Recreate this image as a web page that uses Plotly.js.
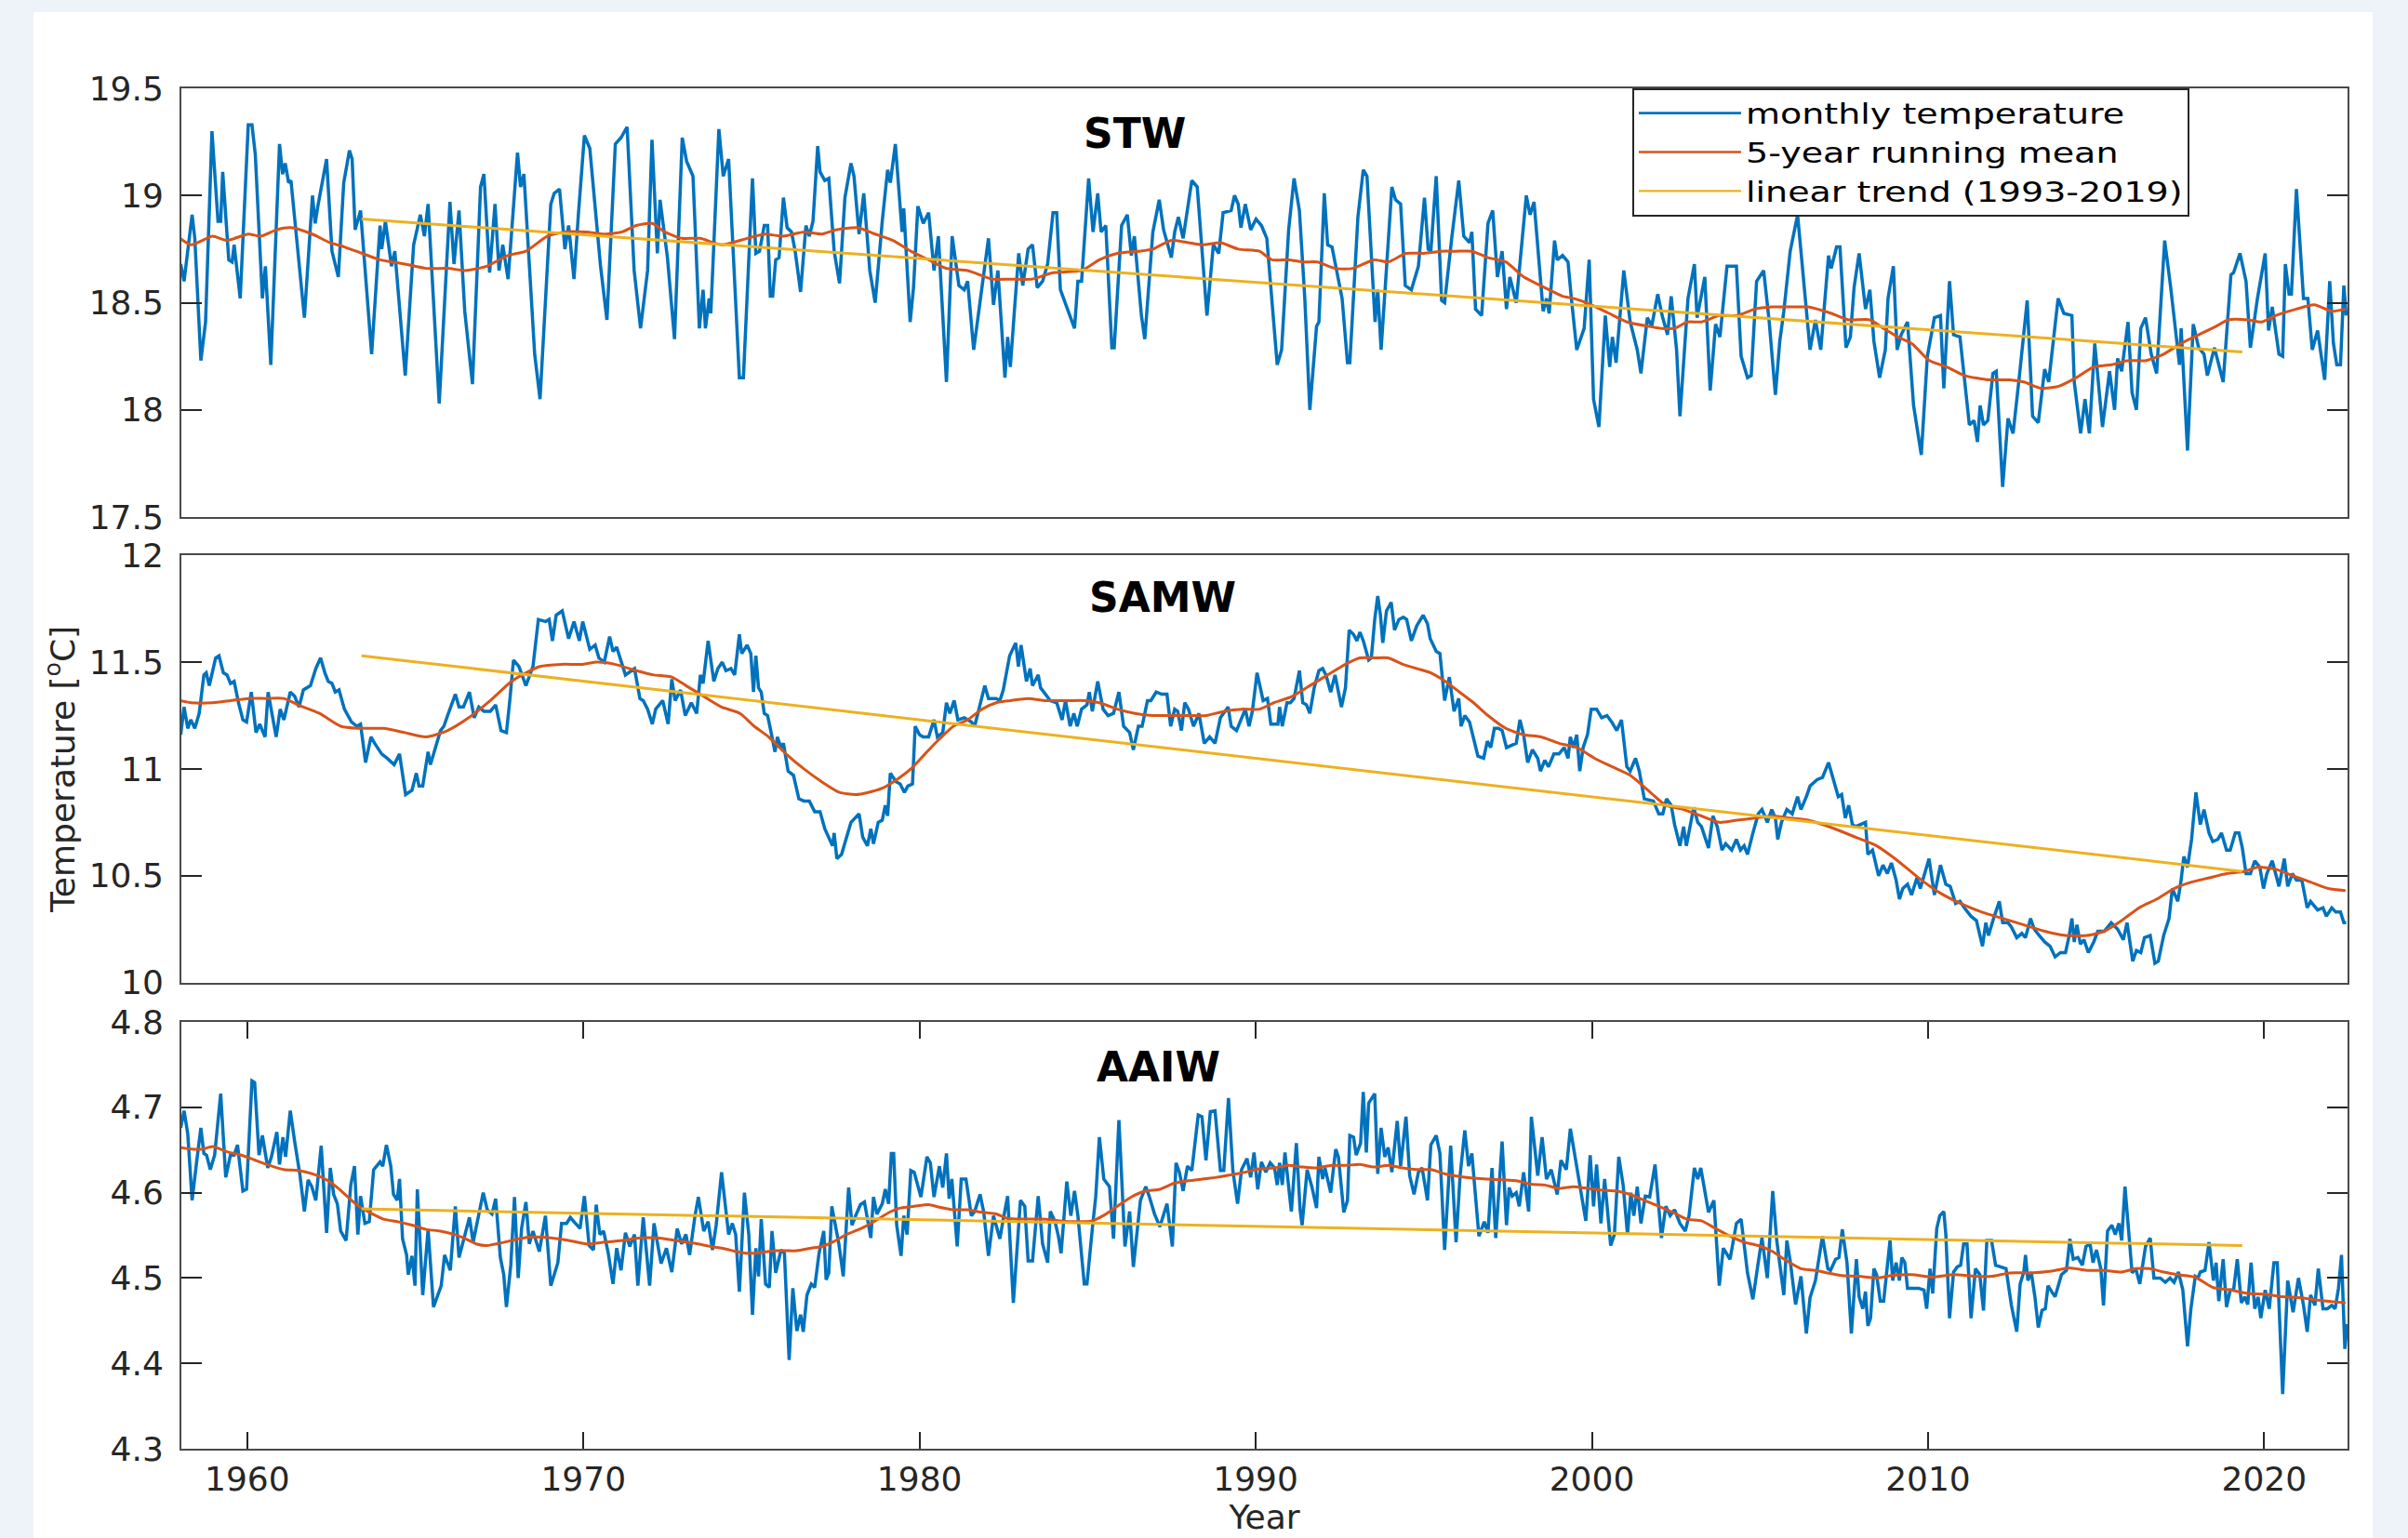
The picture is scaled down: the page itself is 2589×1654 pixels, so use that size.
<!DOCTYPE html>
<html><head><meta charset="utf-8">
<script src="https://cdn.plot.ly/plotly-3.0.1.min.js"></script>
<style>
html,body{margin:0;padding:0;background:#eef3f9;width:2589px;height:1654px;overflow:hidden;}
#plot{position:absolute;left:36px;top:13px;width:2515px;height:1641px;background:#fff;}
</style></head><body><div id="plot"></div>
<script>
// ---------- DATA: [decimal year, temperature °C] ----------
const stwMonthly = [[1958.02,18.68],[1958.12,18.60],[1958.36,18.91],[1958.44,18.80],[1958.62,18.23],[1958.76,18.41],[1958.95,19.30],[1959.13,18.88],[1959.21,18.88],[1959.27,19.11],[1959.45,18.70],[1959.55,18.69],[1959.61,18.77],[1959.79,18.52],[1960.03,19.33],[1960.14,19.33],[1960.24,19.19],[1960.45,18.52],[1960.54,18.67],[1960.70,18.21],[1960.96,19.24],[1961.05,19.10],[1961.13,19.15],[1961.23,19.06],[1961.30,19.07],[1961.70,18.43],[1961.94,19.00],[1962.02,18.87],[1962.10,18.95],[1962.36,19.17],[1962.52,18.74],[1962.71,18.62],[1962.87,19.06],[1963.04,19.21],[1963.12,19.17],[1963.21,18.84],[1963.37,18.93],[1963.70,18.26],[1963.95,18.86],[1964.00,18.75],[1964.11,18.88],[1964.29,18.67],[1964.39,18.74],[1964.70,18.16],[1964.95,18.77],[1965.15,18.91],[1965.27,18.81],[1965.38,18.96],[1965.71,18.03],[1966.03,18.97],[1966.15,18.68],[1966.30,18.93],[1966.47,18.46],[1966.70,18.12],[1966.94,19.04],[1967.04,19.10],[1967.21,18.64],[1967.37,18.96],[1967.49,18.65],[1967.60,18.77],[1967.76,18.61],[1968.04,19.20],[1968.13,19.04],[1968.23,19.10],[1968.55,18.26],[1968.71,18.05],[1969.03,18.96],[1969.13,19.01],[1969.29,19.03],[1969.45,18.75],[1969.56,18.86],[1969.72,18.61],[1969.85,18.91],[1970.03,19.28],[1970.19,19.22],[1970.51,18.67],[1970.70,18.42],[1970.95,19.24],[1971.12,19.27],[1971.30,19.32],[1971.51,18.65],[1971.70,18.38],[1971.91,18.65],[1972.04,19.26],[1972.20,18.73],[1972.28,18.98],[1972.50,18.71],[1972.71,18.33],[1972.94,19.27],[1973.07,19.16],[1973.26,19.09],[1973.45,18.38],[1973.56,18.56],[1973.63,18.38],[1973.74,18.52],[1973.79,18.45],[1974.03,19.31],[1974.16,19.09],[1974.32,19.17],
[1974.64,18.15],[1974.76,18.15],[1975.03,19.08],[1975.13,18.73],[1975.24,18.74],[1975.38,18.86],[1975.48,18.86],[1975.56,18.53],[1975.63,18.53],[1975.72,18.70],[1975.82,18.71],[1975.95,18.99],[1976.06,18.85],[1976.19,18.83],[1976.30,18.74],[1976.46,18.55],[1976.62,18.86],[1976.72,18.81],[1976.83,18.88],[1976.97,19.23],[1977.04,19.11],[1977.18,19.07],[1977.30,19.08],[1977.46,18.74],[1977.62,18.59],[1977.78,18.99],[1977.96,19.15],[1978.05,19.09],[1978.20,18.82],[1978.34,19.01],[1978.52,18.65],[1978.68,18.50],[1978.89,18.88],[1979.05,19.12],[1979.13,19.06],[1979.28,19.24],[1979.48,18.83],[1979.53,18.94],[1979.72,18.41],[1979.82,18.57],[1979.95,18.95],[1980.11,18.87],[1980.27,18.92],[1980.43,18.65],[1980.56,18.81],[1980.80,18.13],[1980.97,18.81],[1981.17,18.58],[1981.33,18.56],[1981.43,18.60],[1981.61,18.28],[1982.05,18.80],[1982.20,18.49],[1982.33,18.65],[1982.54,18.15],[1982.62,18.34],[1982.70,18.20],[1982.83,18.48],[1982.95,18.73],[1983.07,18.58],[1983.23,18.75],[1983.36,18.77],[1983.50,18.57],[1983.66,18.60],[1983.81,18.68],[1983.97,18.92],[1984.08,18.92],[1984.19,18.56],[1984.45,18.45],[1984.61,18.38],[1984.71,18.60],[1984.82,18.60],[1985.03,19.08],[1985.16,18.83],[1985.30,19.01],[1985.40,18.83],[1985.54,18.86],[1985.72,18.29],[1985.79,18.29],[1986.01,18.86],[1986.18,18.91],[1986.30,18.72],[1986.39,18.81],[1986.60,18.44],[1986.70,18.33],[1986.94,18.83],[1987.13,18.98],[1987.26,18.84],[1987.49,18.71],[1987.59,18.83],[1987.70,18.90],[1987.84,18.80],[1988.10,19.07],[1988.26,19.04],[1988.55,18.44],[1988.74,18.77],[1988.90,18.73],[1989.03,18.92],[1989.27,18.93],[1989.37,19.00],[1989.48,18.96],[1989.56,18.85],[1989.69,18.96],[1989.85,18.84],[1990.01,18.89],[1990.17,18.86],[1990.33,18.80],[1990.48,18.52],[1990.64,18.21],
[1990.77,18.28],[1990.98,18.84],[1991.14,19.08],[1991.30,18.93],[1991.46,18.52],[1991.61,18.00],[1991.81,18.39],[1991.88,18.41],[1992.04,19.01],[1992.14,18.77],[1992.27,18.76],[1992.57,18.52],[1992.73,18.22],[1992.80,18.22],[1993.04,18.90],[1993.20,19.12],[1993.31,19.09],[1993.41,18.80],[1993.55,18.41],[1993.63,18.56],[1993.73,18.28],[1994.05,19.04],[1994.16,18.98],[1994.31,18.96],[1994.45,18.58],[1994.63,18.56],[1994.84,18.67],[1995.02,18.99],[1995.13,18.75],[1995.21,18.74],[1995.37,19.09],[1995.53,18.51],[1995.62,18.50],[1995.83,18.80],[1996.04,19.07],[1996.19,18.81],[1996.36,18.78],[1996.43,18.83],[1996.54,18.47],[1996.72,18.44],[1996.91,18.87],[1997.05,18.93],[1997.19,18.62],[1997.33,18.74],[1997.46,18.47],[1997.56,18.62],[1997.75,18.50],[1998.05,19.00],[1998.16,18.91],[1998.28,18.97],[1998.55,18.46],[1998.65,18.52],[1998.73,18.45],[1998.89,18.79],[1998.97,18.70],[1999.13,18.72],[1999.29,18.69],[1999.39,18.52],[1999.55,18.28],[1999.77,18.38],[1999.92,18.70],[2000.05,18.05],[2000.21,17.92],[2000.40,18.44],[2000.53,18.20],[2000.61,18.34],[2000.72,18.22],[2000.95,18.65],[2001.14,18.41],[2001.35,18.28],[2001.46,18.17],[2001.65,18.43],[2001.78,18.39],[2001.96,18.54],[2002.09,18.44],[2002.25,18.35],[2002.36,18.53],[2002.52,18.28],[2002.62,17.97],[2002.86,18.52],[2003.05,18.68],[2003.13,18.43],[2003.36,18.62],[2003.52,18.09],[2003.68,18.40],[2003.81,18.34],[2004.02,18.67],[2004.16,18.67],[2004.30,18.67],[2004.44,18.25],[2004.63,18.15],[2004.74,18.16],[2004.90,18.60],[2005.11,18.65],[2005.27,18.42],[2005.46,18.07],[2005.59,18.32],[2005.71,18.46],[2005.90,18.74],[2006.12,18.91],[2006.33,18.53],[2006.49,18.28],[2006.65,18.42],[2006.81,18.28],
[2007.04,18.72],[2007.12,18.66],[2007.28,18.76],[2007.38,18.76],[2007.56,18.29],[2007.69,18.34],[2007.80,18.57],[2007.95,18.73],[2008.14,18.47],[2008.27,18.56],[2008.39,18.32],[2008.56,18.15],[2008.73,18.28],[2008.81,18.52],[2008.97,18.67],[2009.08,18.28],[2009.20,18.35],[2009.39,18.41],[2009.57,18.02],[2009.80,17.79],[2009.98,18.25],[2010.19,18.43],[2010.37,18.44],[2010.47,18.10],[2010.64,18.60],[2010.76,18.35],[2010.95,18.34],[2011.23,17.93],[2011.37,17.95],[2011.47,17.85],[2011.55,18.02],[2011.65,17.93],[2011.78,17.95],[2011.93,18.17],[2012.03,18.18],[2012.22,17.64],[2012.38,17.96],[2012.53,17.89],[2012.72,18.16],[2012.95,18.51],[2013.11,17.97],[2013.28,17.94],[2013.47,18.19],[2013.59,18.13],[2013.87,18.52],[2014.04,18.45],[2014.28,18.44],[2014.35,18.13],[2014.54,17.89],[2014.67,18.05],[2014.80,17.89],[2014.96,18.31],[2015.19,17.92],[2015.40,18.18],[2015.55,18.00],[2015.64,18.24],[2015.76,18.18],[2015.95,18.41],[2016.07,18.08],[2016.20,18.00],[2016.33,18.38],[2016.47,18.43],[2016.64,18.26],[2016.80,18.17],[2017.04,18.79],[2017.22,18.57],[2017.48,18.21],[2017.53,18.38],[2017.72,17.81],[2017.89,18.40],[2018.05,18.29],[2018.21,18.26],[2018.31,18.16],[2018.52,18.29],[2018.78,18.13],[2019.01,18.63],[2019.09,18.64],[2019.28,18.73],[2019.46,18.60],[2019.59,18.29],[2019.80,18.52],[2020.03,18.73],[2020.13,18.37],[2020.24,18.48],[2020.44,18.26],[2020.55,18.25],[2020.63,18.68],[2020.74,18.54],[2020.81,18.54],[2020.96,19.03],[2021.17,18.52],[2021.30,18.52],[2021.43,18.28],[2021.59,18.37],[2021.80,18.14],[2021.95,18.60],[2022.06,18.31],[2022.16,18.21],[2022.27,18.21],[2022.37,18.58],[2022.44,18.44]];

const stwMean = [[1958.0,18.80],[1958.33,18.77],[1958.97,18.81],[1959.39,18.79],[1960.03,18.82],[1960.40,18.81],[1960.87,18.84],[1961.30,18.85],[1961.93,18.82],[1962.46,18.78],[1962.89,18.76],[1963.42,18.73],[1963.95,18.70],[1964.69,18.68],[1965.32,18.66],[1965.96,18.66],[1966.49,18.65],[1967.12,18.67],[1967.75,18.72],[1968.29,18.74],[1968.92,18.81],[1969.45,18.83],[1970.09,18.83],[1970.62,18.82],[1971.15,18.83],[1971.57,18.86],[1972.05,18.87],[1972.42,18.83],[1972.94,18.80],[1973.47,18.80],[1974.11,18.77],[1974.87,18.80],[1975.40,18.82],[1975.93,18.81],[1976.56,18.83],[1977.09,18.82],[1977.52,18.84],[1978.15,18.85],[1978.68,18.82],[1979.21,18.79],[1979.74,18.74],[1980.27,18.70],[1980.80,18.66],[1981.43,18.65],[1982.17,18.61],[1982.70,18.61],[1983.34,18.61],[1983.97,18.64],[1984.82,18.65],[1985.35,18.70],[1985.88,18.73],[1986.51,18.74],[1986.94,18.75],[1987.47,18.79],[1988.00,18.78],[1988.42,18.77],[1988.95,18.78],[1989.48,18.75],[1990.11,18.74],[1990.48,18.70],[1990.98,18.70],[1991.40,18.69],[1991.83,18.69],[1992.36,18.66],[1992.89,18.66],[1993.52,18.70],[1993.94,18.69],[1994.47,18.73],[1995.00,18.73],[1995.53,18.74],[1995.95,18.74],[1996.43,18.74],[1996.91,18.71],[1997.44,18.69],[1997.97,18.62],[1998.60,18.57],[1999.13,18.53],[1999.45,18.52],[1999.98,18.49],[2000.51,18.45],[2001.04,18.41],[2001.67,18.39],[2002.09,18.38],[2002.46,18.38],[2002.84,18.41],[2003.26,18.41],[2003.79,18.44],[2004.32,18.44],[2004.85,18.47],[2005.38,18.48],[2005.91,18.48],[2006.43,18.48],[2007.12,18.45],[2007.64,18.42],[2008.27,18.42],[2008.68,18.38],[2009.10,18.34],[2009.51,18.31],[2010.04,18.23],[2010.56,18.20],[2011.08,18.16],[2011.80,18.14],[2012.43,18.14],[2012.85,18.13],[2013.37,18.10],[2013.89,18.11],[2014.41,18.15],[2014.93,18.20],[2015.45,18.21],[2015.97,18.23],[2016.49,18.23],[2017.01,18.26],[2017.53,18.31],[2018.05,18.35],[2018.57,18.39],[2018.93,18.42],[2019.51,18.42],[2019.92,18.41],[2020.34,18.44],[2020.96,18.47],[2021.49,18.49],[2022.01,18.46],[2022.42,18.47]];

const stwTrend = [[1963.4,18.89],[2019.35,18.27]];

const samwMonthly = [[1958.02,11.16],[1958.12,11.29],[1958.23,11.19],[1958.32,11.23],[1958.44,11.19],[1958.57,11.26],[1958.71,11.44],[1958.78,11.45],[1958.87,11.39],[1959.06,11.52],[1959.16,11.53],[1959.29,11.45],[1959.40,11.44],[1959.50,11.40],[1959.61,11.41],[1959.74,11.31],[1959.87,11.23],[1959.98,11.22],[1960.12,11.36],[1960.26,11.17],[1960.37,11.21],[1960.53,11.15],[1960.62,11.36],[1960.72,11.28],[1960.86,11.15],[1960.98,11.28],[1961.09,11.23],[1961.28,11.36],[1961.41,11.34],[1961.54,11.29],[1961.67,11.37],[1961.88,11.39],[1962.04,11.47],[1962.18,11.52],[1962.31,11.45],[1962.41,11.41],[1962.52,11.40],[1962.62,11.36],[1962.73,11.37],[1962.89,11.28],[1963.10,11.22],[1963.26,11.20],[1963.37,11.21],[1963.52,11.03],[1963.68,11.15],[1963.79,11.12],[1964.00,11.07],[1964.16,11.05],[1964.37,11.02],[1964.53,11.07],[1964.71,10.88],[1964.90,10.90],[1965.03,10.98],[1965.11,10.92],[1965.22,10.92],[1965.38,11.08],[1965.45,11.02],[1965.75,11.18],[1965.85,11.20],[1965.96,11.25],[1966.19,11.35],[1966.30,11.29],[1966.43,11.29],[1966.61,11.36],[1966.75,11.24],[1966.89,11.29],[1967.04,11.27],[1967.23,11.27],[1967.39,11.30],[1967.55,11.18],[1967.71,11.17],[1967.81,11.32],[1967.92,11.51],[1968.08,11.48],[1968.29,11.39],[1968.50,11.48],[1968.66,11.70],[1968.87,11.69],[1968.98,11.70],[1969.08,11.60],[1969.19,11.72],[1969.37,11.74],[1969.45,11.68],[1969.56,11.61],[1969.72,11.69],[1969.88,11.60],[1969.98,11.69],[1970.19,11.56],[1970.35,11.58],[1970.46,11.52],[1970.62,11.50],[1970.78,11.62],[1970.88,11.55],[1970.99,11.57],[1971.25,11.44],[1971.52,11.47],[1971.68,11.33],[1971.78,11.32],[1971.91,11.28],[1972.05,11.21],[1972.15,11.28],[1972.36,11.32],[1972.52,11.21],[1972.63,11.42],[1972.73,11.32],[1972.89,11.37],[1973.03,11.25],[1973.21,11.31],[1973.37,11.26],[1973.48,11.44],[1973.56,11.40],[1973.71,11.60],[1973.88,11.41],[1974.00,11.47],[1974.13,11.50],
[1974.24,11.46],[1974.39,11.47],[1974.50,11.44],[1974.64,11.63],[1974.71,11.54],[1974.87,11.58],[1974.98,11.54],[1975.06,11.36],[1975.13,11.53],[1975.21,11.38],[1975.29,11.36],[1975.38,11.26],[1975.48,11.25],[1975.56,11.19],[1975.70,11.08],[1975.77,11.15],[1975.88,11.10],[1975.95,11.12],[1976.09,10.99],[1976.25,10.97],[1976.41,10.86],[1976.56,10.85],[1976.72,10.85],[1976.88,10.80],[1977.04,10.80],[1977.18,10.72],[1977.41,10.64],[1977.46,10.70],[1977.54,10.58],[1977.68,10.60],[1977.83,10.68],[1977.96,10.75],[1978.20,10.79],[1978.31,10.68],[1978.45,10.64],[1978.55,10.72],[1978.63,10.65],[1978.77,10.75],[1978.89,10.76],[1978.98,10.83],[1979.05,10.78],[1979.13,10.98],[1979.30,10.94],[1979.42,10.93],[1979.55,10.89],[1979.65,10.92],[1979.79,10.93],[1979.87,11.20],[1980.00,11.16],[1980.11,11.15],[1980.27,11.15],[1980.43,11.23],[1980.53,11.15],[1980.69,11.17],[1980.80,11.31],[1980.90,11.26],[1981.03,11.32],[1981.14,11.23],[1981.33,11.24],[1981.54,11.22],[1981.64,11.20],[1981.77,11.28],[1981.94,11.39],[1982.05,11.33],[1982.28,11.33],[1982.39,11.32],[1982.49,11.37],[1982.68,11.53],[1982.86,11.59],[1982.94,11.48],[1983.02,11.58],[1983.18,11.41],[1983.29,11.47],[1983.36,11.39],[1983.53,11.44],[1983.60,11.38],[1983.76,11.35],[1983.89,11.32],[1984.08,11.31],[1984.24,11.23],[1984.34,11.32],[1984.48,11.20],[1984.59,11.26],[1984.69,11.20],[1984.82,11.28],[1984.98,11.30],[1985.05,11.36],[1985.14,11.27],[1985.30,11.41],[1985.46,11.28],[1985.61,11.25],[1985.77,11.26],[1985.93,11.36],[1986.07,11.20],[1986.25,11.17],[1986.36,11.09],[1986.51,11.20],[1986.62,11.20],[1986.78,11.32],[1986.88,11.32],[1987.04,11.36],[1987.20,11.35],[1987.36,11.35],[1987.47,11.20],[1987.59,11.28],[1987.68,11.27],[1987.79,11.18],[1987.89,11.31],[1988.00,11.28],[1988.15,11.20],[1988.31,11.26],[1988.47,11.12],[1988.63,11.15],[1988.79,11.12],[1988.95,11.24],[1989.18,11.29],[1989.27,11.20],[1989.43,11.18],[1989.56,11.23],[1989.69,11.28],[1989.80,11.20],[1989.90,11.27],[1990.04,11.45],[1990.22,11.32],[1990.35,11.33],[1990.45,11.21],
[1990.66,11.21],[1990.71,11.29],[1990.79,11.20],[1990.93,11.31],[1991.03,11.31],[1991.14,11.33],[1991.30,11.46],[1991.40,11.31],[1991.51,11.30],[1991.61,11.26],[1991.74,11.38],[1991.88,11.46],[1991.99,11.47],[1992.09,11.44],[1992.23,11.36],[1992.36,11.44],[1992.55,11.29],[1992.67,11.38],[1992.78,11.65],[1992.91,11.63],[1993.01,11.60],[1993.10,11.64],[1993.20,11.60],[1993.36,11.51],[1993.44,11.52],[1993.54,11.70],[1993.63,11.81],[1993.71,11.72],[1993.78,11.59],[1993.89,11.74],[1994.03,11.78],[1994.13,11.65],[1994.26,11.70],[1994.39,11.71],[1994.49,11.70],[1994.63,11.60],[1994.79,11.67],[1994.98,11.72],[1995.11,11.68],[1995.19,11.61],[1995.37,11.55],[1995.48,11.54],[1995.62,11.32],[1995.76,11.43],[1995.90,11.27],[1996.04,11.33],[1996.11,11.20],[1996.22,11.25],[1996.36,11.22],[1996.48,11.15],[1996.61,11.06],[1996.78,11.05],[1996.89,11.13],[1996.99,11.10],[1997.10,11.19],[1997.22,11.19],[1997.33,11.18],[1997.46,11.10],[1997.60,11.11],[1997.75,11.12],[1997.86,11.23],[1997.97,11.16],[1998.09,11.03],[1998.23,11.09],[1998.39,11.05],[1998.47,10.99],[1998.60,11.04],[1998.71,11.01],[1998.87,11.07],[1999.02,11.07],[1999.18,11.10],[1999.29,11.05],[1999.36,11.15],[1999.45,11.10],[1999.55,11.16],[1999.64,10.99],[1999.74,11.10],[1999.87,11.16],[1999.98,11.28],[2000.14,11.28],[2000.29,11.24],[2000.45,11.25],[2000.59,11.22],[2000.74,11.18],[2000.88,11.23],[2001.04,11.01],[2001.14,10.99],[2001.30,11.05],[2001.41,10.99],[2001.56,10.86],[2001.83,10.85],[2001.99,10.79],[2002.11,10.79],[2002.22,10.86],[2002.36,10.83],[2002.46,10.74],[2002.62,10.64],[2002.73,10.73],[2002.81,10.64],[2002.92,10.73],[2003.03,10.82],[2003.15,10.75],[2003.26,10.73],[2003.47,10.63],[2003.60,10.78],[2003.73,10.73],[2003.87,10.62],[2003.98,10.65],[2004.16,10.62],[2004.30,10.67],[2004.42,10.62],[2004.53,10.64],[2004.63,10.60],[2004.79,10.70],[2004.95,10.79],[2005.06,10.81],[2005.22,10.75],[2005.35,10.81],[2005.46,10.77],[2005.53,10.67],[2005.64,10.75],[2005.80,10.81],[2005.96,10.79],[2006.12,10.87],[2006.22,10.81],[2006.38,10.87],[2006.49,10.92],[2006.70,10.95],[2006.86,10.96],
[2007.04,11.03],[2007.17,10.96],[2007.33,10.87],[2007.43,10.88],[2007.54,10.77],[2007.64,10.83],[2007.75,10.74],[2007.85,10.73],[2008.01,10.74],[2008.14,10.75],[2008.21,10.60],[2008.35,10.62],[2008.53,10.50],[2008.66,10.55],[2008.79,10.51],[2008.91,10.56],[2009.05,10.48],[2009.15,10.39],[2009.25,10.44],[2009.39,10.46],[2009.51,10.41],[2009.67,10.49],[2009.77,10.44],[2009.91,10.51],[2010.03,10.58],[2010.19,10.41],[2010.37,10.55],[2010.53,10.46],[2010.66,10.45],[2010.82,10.37],[2010.95,10.38],[2011.08,10.35],[2011.28,10.31],[2011.44,10.29],[2011.62,10.17],[2011.72,10.28],[2011.80,10.22],[2011.93,10.29],[2012.12,10.38],[2012.22,10.28],[2012.38,10.28],[2012.48,10.26],[2012.64,10.21],[2012.79,10.23],[2012.90,10.21],[2013.05,10.30],[2013.16,10.25],[2013.31,10.22],[2013.47,10.19],[2013.63,10.17],[2013.78,10.12],[2013.94,10.14],[2014.09,10.14],[2014.20,10.22],[2014.28,10.30],[2014.35,10.19],[2014.43,10.27],[2014.53,10.18],[2014.64,10.20],[2014.77,10.14],[2014.93,10.19],[2015.05,10.24],[2015.24,10.24],[2015.45,10.28],[2015.64,10.25],[2015.81,10.20],[2015.92,10.28],[2016.09,10.10],[2016.20,10.15],[2016.33,10.14],[2016.44,10.21],[2016.61,10.22],[2016.75,10.09],[2016.85,10.10],[2017.01,10.22],[2017.17,10.30],[2017.27,10.44],[2017.43,10.38],[2017.53,10.48],[2017.61,10.59],[2017.72,10.54],[2017.84,10.67],[2017.97,10.89],[2018.10,10.74],[2018.21,10.81],[2018.36,10.70],[2018.47,10.66],[2018.62,10.67],[2018.73,10.70],[2018.88,10.62],[2018.99,10.62],[2019.14,10.70],[2019.25,10.70],[2019.35,10.63],[2019.46,10.51],[2019.59,10.51],[2019.72,10.57],[2019.87,10.54],[2019.98,10.44],[2020.08,10.51],[2020.24,10.57],[2020.34,10.51],[2020.44,10.45],[2020.60,10.58],[2020.70,10.45],[2020.84,10.51],[2020.96,10.48],[2021.12,10.48],[2021.28,10.35],[2021.38,10.38],[2021.59,10.34],[2021.75,10.35],[2021.85,10.31],[2022.01,10.35],[2022.13,10.33],[2022.27,10.33],[2022.37,10.28],[2022.44,10.28]];

const samwMean = [[1958.0,11.32],[1958.34,11.31],[1958.97,11.31],[1959.50,11.32],[1960.03,11.33],[1960.56,11.33],[1961.09,11.33],[1961.51,11.30],[1962.15,11.26],[1962.78,11.20],[1963.31,11.19],[1964.05,11.19],[1964.69,11.17],[1965.32,11.15],[1965.96,11.18],[1966.59,11.24],[1967.23,11.32],[1967.86,11.41],[1968.29,11.45],[1968.71,11.48],[1969.35,11.49],[1969.98,11.49],[1970.40,11.50],[1970.93,11.49],[1971.57,11.46],[1972.10,11.44],[1972.63,11.43],[1973.05,11.39],[1973.58,11.34],[1974.11,11.29],[1974.66,11.26],[1975.08,11.20],[1975.51,11.15],[1976.03,11.07],[1976.56,11.00],[1977.09,10.94],[1977.62,10.89],[1978.10,10.88],[1978.47,10.89],[1978.89,10.91],[1979.32,10.95],[1979.74,11.00],[1980.16,11.07],[1980.59,11.14],[1981.01,11.20],[1981.43,11.23],[1981.86,11.28],[1982.28,11.31],[1982.70,11.32],[1983.23,11.33],[1983.76,11.32],[1984.40,11.32],[1984.93,11.32],[1985.35,11.31],[1985.88,11.28],[1986.41,11.26],[1986.94,11.25],[1987.57,11.25],[1988.00,11.25],[1988.53,11.25],[1989.06,11.27],[1989.59,11.28],[1990.11,11.28],[1990.54,11.31],[1991.09,11.34],[1991.61,11.39],[1992.14,11.44],[1992.67,11.49],[1993.10,11.52],[1993.52,11.52],[1993.94,11.52],[1994.37,11.49],[1994.79,11.47],[1995.21,11.45],[1995.64,11.41],[1996.06,11.36],[1996.48,11.31],[1996.91,11.25],[1997.44,11.19],[1997.97,11.16],[1998.49,11.15],[1999.02,11.12],[1999.55,11.10],[2000.08,11.05],[2000.61,11.01],[2001.14,10.97],[2001.67,10.90],[2002.20,10.83],[2002.73,10.81],[2003.26,10.78],[2003.79,10.75],[2004.32,10.76],[2004.85,10.77],[2005.38,10.78],[2005.91,10.77],[2006.43,10.76],[2007.22,10.72],[2007.85,10.68],[2008.47,10.64],[2009.10,10.57],[2009.72,10.49],[2010.35,10.42],[2010.97,10.37],[2011.60,10.33],[2012.22,10.30],[2012.85,10.27],[2013.47,10.24],[2014.09,10.22],[2014.72,10.22],[2015.24,10.24],[2015.76,10.29],[2016.28,10.35],[2016.80,10.39],[2017.32,10.44],[2017.84,10.47],[2018.36,10.49],[2018.88,10.51],[2019.40,10.52],[2019.82,10.54],[2020.34,10.53],[2020.86,10.50],[2021.38,10.47],[2021.90,10.44],[2022.42,10.43]];

const samwTrend = [[1963.4,11.53],[2019.35,10.52]];

const aaiwMonthly = [[1958.02,4.676],[1958.12,4.696],[1958.23,4.669],[1958.36,4.591],[1958.50,4.638],[1958.62,4.676],[1958.71,4.646],[1958.79,4.644],[1958.90,4.627],[1959.03,4.644],[1959.21,4.716],[1959.36,4.618],[1959.50,4.644],[1959.61,4.644],[1959.71,4.656],[1959.87,4.602],[1959.98,4.604],[1960.14,4.731],[1960.22,4.729],[1960.35,4.644],[1960.45,4.667],[1960.61,4.629],[1960.72,4.642],[1960.88,4.671],[1960.96,4.633],[1961.06,4.665],[1961.14,4.642],[1961.28,4.696],[1961.41,4.660],[1961.57,4.620],[1961.70,4.578],[1961.81,4.615],[1961.92,4.607],[1962.04,4.591],[1962.20,4.655],[1962.36,4.553],[1962.47,4.629],[1962.57,4.598],[1962.68,4.587],[1962.78,4.555],[1962.94,4.544],[1963.08,4.609],[1963.19,4.631],[1963.29,4.551],[1963.37,4.596],[1963.50,4.564],[1963.63,4.566],[1963.76,4.627],[1963.95,4.636],[1964.03,4.631],[1964.14,4.656],[1964.27,4.631],[1964.35,4.598],[1964.46,4.591],[1964.53,4.616],[1964.62,4.546],[1964.74,4.527],[1964.79,4.504],[1964.90,4.526],[1964.99,4.491],[1965.06,4.604],[1965.22,4.480],[1965.38,4.557],[1965.54,4.466],[1965.77,4.491],[1965.87,4.527],[1966.04,4.509],[1966.19,4.584],[1966.30,4.524],[1966.47,4.549],[1966.61,4.571],[1966.72,4.542],[1966.89,4.573],[1967.02,4.600],[1967.14,4.580],[1967.28,4.575],[1967.39,4.593],[1967.53,4.524],[1967.63,4.504],[1967.71,4.466],[1967.84,4.515],[1967.95,4.595],[1968.06,4.500],[1968.16,4.558],[1968.29,4.589],[1968.39,4.540],[1968.50,4.555],[1968.69,4.531],[1968.87,4.573],[1969.03,4.491],[1969.24,4.518],[1969.35,4.564],[1969.50,4.564],[1969.61,4.571],[1969.72,4.566],[1969.90,4.558],[1970.03,4.596],[1970.17,4.538],[1970.30,4.533],[1970.38,4.586],[1970.49,4.551],[1970.60,4.555],[1970.74,4.529],[1970.88,4.493],[1970.99,4.535],[1971.12,4.509],[1971.25,4.553],[1971.38,4.537],[1971.52,4.551],[1971.62,4.491],[1971.78,4.571],[1971.97,4.491],[1972.10,4.564],[1972.31,4.517],[1972.47,4.535],[1972.63,4.507],[1972.79,4.558],[1972.92,4.540],[1973.05,4.551],[1973.16,4.527],[1973.32,4.573],[1973.42,4.595],[1973.58,4.555],[1973.71,4.566],[1973.84,4.533],[1973.95,4.562],[1974.11,4.624],
[1974.32,4.551],[1974.43,4.564],[1974.53,4.551],[1974.64,4.484],[1974.79,4.600],[1974.92,4.551],[1975.03,4.457],[1975.13,4.535],[1975.21,4.502],[1975.29,4.569],[1975.42,4.493],[1975.53,4.489],[1975.61,4.555],[1975.72,4.506],[1975.88,4.533],[1975.98,4.529],[1976.12,4.404],[1976.23,4.488],[1976.35,4.438],[1976.46,4.457],[1976.54,4.437],[1976.65,4.480],[1976.78,4.493],[1976.88,4.489],[1977.01,4.529],[1977.15,4.555],[1977.22,4.498],[1977.30,4.506],[1977.39,4.584],[1977.60,4.540],[1977.73,4.502],[1977.89,4.606],[1977.99,4.562],[1978.10,4.573],[1978.24,4.586],[1978.36,4.589],[1978.47,4.562],[1978.55,4.547],[1978.63,4.595],[1978.73,4.575],[1978.89,4.587],[1978.98,4.604],[1979.08,4.587],[1979.16,4.646],[1979.23,4.646],[1979.32,4.562],[1979.45,4.526],[1979.53,4.573],[1979.63,4.551],[1979.74,4.626],[1979.84,4.624],[1980.04,4.595],[1980.22,4.642],[1980.32,4.635],[1980.43,4.595],[1980.59,4.631],[1980.69,4.606],[1980.80,4.646],[1980.88,4.593],[1980.96,4.616],[1981.12,4.537],[1981.24,4.616],[1981.38,4.616],[1981.54,4.573],[1981.64,4.578],[1981.80,4.598],[1981.91,4.577],[1982.05,4.526],[1982.20,4.573],[1982.39,4.546],[1982.49,4.569],[1982.62,4.596],[1982.79,4.471],[1983.00,4.591],[1983.13,4.584],[1983.23,4.520],[1983.36,4.520],[1983.53,4.596],[1983.66,4.540],[1983.81,4.518],[1983.89,4.578],[1984.03,4.566],[1984.13,4.549],[1984.21,4.529],[1984.38,4.613],[1984.50,4.573],[1984.61,4.602],[1984.71,4.573],[1984.90,4.493],[1984.98,4.493],[1985.14,4.558],[1985.24,4.595],[1985.35,4.665],[1985.48,4.616],[1985.65,4.607],[1985.77,4.546],[1985.93,4.685],[1986.11,4.537],[1986.25,4.578],[1986.36,4.513],[1986.57,4.591],[1986.73,4.607],[1986.83,4.596],[1986.99,4.575],[1987.15,4.560],[1987.28,4.575],[1987.36,4.587],[1987.52,4.537],[1987.63,4.635],[1987.73,4.624],[1987.84,4.602],[1987.97,4.631],[1988.10,4.626],[1988.29,4.691],[1988.40,4.689],[1988.52,4.638],[1988.65,4.695],[1988.79,4.696],[1988.95,4.626],[1989.05,4.626],[1989.19,4.711],[1989.32,4.626],[1989.46,4.587],[1989.58,4.627],[1989.74,4.640],[1989.85,4.618],[1989.95,4.647],[1990.06,4.604],[1990.17,4.636],[1990.30,4.624],[1990.43,4.635],
[1990.56,4.629],[1990.64,4.609],[1990.71,4.635],[1990.79,4.609],[1990.87,4.647],[1990.96,4.616],[1991.06,4.578],[1991.21,4.658],[1991.32,4.580],[1991.38,4.562],[1991.53,4.627],[1991.67,4.607],[1991.81,4.582],[1991.88,4.642],[1991.99,4.616],[1992.06,4.629],[1992.23,4.600],[1992.38,4.651],[1992.46,4.642],[1992.62,4.577],[1992.73,4.591],[1992.80,4.667],[1992.91,4.665],[1992.99,4.644],[1993.12,4.658],[1993.20,4.718],[1993.29,4.647],[1993.36,4.705],[1993.54,4.716],[1993.63,4.622],[1993.73,4.676],[1993.84,4.642],[1993.94,4.653],[1994.05,4.624],[1994.21,4.684],[1994.31,4.631],[1994.47,4.689],[1994.58,4.620],[1994.71,4.598],[1994.84,4.624],[1994.95,4.629],[1995.11,4.591],[1995.21,4.656],[1995.37,4.667],[1995.48,4.646],[1995.62,4.533],[1995.80,4.655],[1995.96,4.542],[1996.08,4.620],[1996.22,4.673],[1996.33,4.631],[1996.43,4.646],[1996.64,4.549],[1996.80,4.566],[1996.91,4.553],[1997.03,4.629],[1997.14,4.547],[1997.33,4.660],[1997.46,4.562],[1997.54,4.606],[1997.63,4.596],[1997.75,4.600],[1997.84,4.584],[1997.97,4.624],[1998.12,4.578],[1998.20,4.689],[1998.39,4.620],[1998.52,4.665],[1998.65,4.616],[1998.79,4.627],[1998.97,4.598],[1999.08,4.638],[1999.24,4.627],[1999.36,4.675],[1999.53,4.635],[1999.68,4.598],[1999.82,4.567],[1999.95,4.644],[2000.05,4.584],[2000.14,4.633],[2000.27,4.564],[2000.38,4.616],[2000.56,4.538],[2000.67,4.551],[2000.80,4.642],[2000.93,4.609],[2001.06,4.551],[2001.16,4.600],[2001.25,4.573],[2001.35,4.607],[2001.46,4.564],[2001.59,4.596],[2001.72,4.595],[2001.88,4.633],[2002.07,4.547],[2002.20,4.584],[2002.33,4.573],[2002.46,4.580],[2002.62,4.564],[2002.78,4.555],[2002.89,4.573],[2003.05,4.629],[2003.15,4.616],[2003.24,4.629],[2003.47,4.577],[2003.63,4.591],[2003.79,4.491],[2003.91,4.535],[2004.11,4.522],[2004.30,4.564],[2004.44,4.569],[2004.63,4.506],[2004.79,4.475],[2004.93,4.513],[2005.06,4.547],[2005.22,4.500],[2005.38,4.602],[2005.50,4.544],[2005.61,4.511],[2005.71,4.480],[2005.80,4.544],[2005.90,4.520],[2006.06,4.469],[2006.22,4.502],[2006.38,4.435],[2006.49,4.477],[2006.65,4.497],[2006.86,4.549],
[2007.02,4.511],[2007.10,4.509],[2007.25,4.522],[2007.35,4.524],[2007.45,4.557],[2007.59,4.518],[2007.72,4.435],[2007.87,4.522],[2007.95,4.478],[2008.06,4.464],[2008.14,4.484],[2008.21,4.444],[2008.29,4.453],[2008.39,4.511],[2008.47,4.504],[2008.58,4.473],[2008.68,4.473],[2008.87,4.544],[2008.95,4.497],[2009.05,4.518],[2009.15,4.497],[2009.22,4.524],[2009.31,4.518],[2009.39,4.488],[2009.57,4.488],[2009.72,4.488],[2009.88,4.486],[2009.96,4.464],[2010.06,4.511],[2010.14,4.482],[2010.26,4.558],[2010.35,4.573],[2010.47,4.578],[2010.53,4.551],[2010.64,4.453],[2010.76,4.507],[2010.87,4.513],[2010.97,4.515],[2011.06,4.540],[2011.16,4.540],[2011.28,4.453],[2011.41,4.511],[2011.54,4.504],[2011.65,4.462],[2011.75,4.544],[2011.89,4.544],[2012.01,4.515],[2012.17,4.513],[2012.32,4.511],[2012.48,4.468],[2012.64,4.437],[2012.74,4.493],[2012.85,4.507],[2012.90,4.527],[2012.97,4.497],[2013.07,4.507],[2013.18,4.478],[2013.28,4.442],[2013.39,4.462],[2013.49,4.464],[2013.57,4.491],[2013.68,4.484],[2013.78,4.478],[2013.89,4.493],[2013.97,4.504],[2014.12,4.509],[2014.22,4.546],[2014.32,4.522],[2014.46,4.524],[2014.59,4.515],[2014.70,4.537],[2014.82,4.540],[2014.91,4.518],[2015.01,4.533],[2015.14,4.511],[2015.22,4.468],[2015.34,4.555],[2015.47,4.562],[2015.57,4.551],[2015.68,4.564],[2015.76,4.544],[2015.86,4.607],[2015.99,4.544],[2016.07,4.506],[2016.18,4.511],[2016.30,4.493],[2016.47,4.537],[2016.61,4.547],[2016.72,4.500],[2016.91,4.500],[2017.06,4.495],[2017.20,4.500],[2017.32,4.495],[2017.45,4.507],[2017.58,4.486],[2017.72,4.420],[2017.82,4.464],[2017.95,4.502],[2018.03,4.500],[2018.10,4.507],[2018.24,4.509],[2018.36,4.542],[2018.49,4.497],[2018.57,4.518],[2018.65,4.473],[2018.78,4.522],[2018.88,4.466],[2018.99,4.486],[2019.09,4.486],[2019.20,4.522],[2019.32,4.471],[2019.42,4.478],[2019.51,4.469],[2019.61,4.518],[2019.72,4.464],[2019.82,4.478],[2019.90,4.453],[2020.03,4.486],[2020.15,4.464],[2020.29,4.518],[2020.39,4.518],[2020.55,4.364],[2020.70,4.497],[2020.86,4.460],[2021.02,4.500],[2021.17,4.468],[2021.28,4.437],[2021.38,4.480],[2021.51,4.468],[2021.61,4.511],[2021.75,4.464],[2021.88,4.464],[2022.01,4.468],[2022.11,4.464],[2022.21,4.488],[2022.30,4.527],[2022.40,4.417],[2022.47,4.446]];

const aaiwMean = [[1958.0,4.653],[1958.34,4.651],[1958.66,4.651],[1958.97,4.654],[1959.40,4.648],[1959.82,4.644],[1960.24,4.638],[1960.67,4.632],[1961.09,4.627],[1961.51,4.626],[1961.94,4.622],[1962.36,4.615],[1962.68,4.606],[1962.99,4.595],[1963.31,4.584],[1963.63,4.577],[1964.05,4.569],[1964.48,4.566],[1964.90,4.562],[1965.32,4.557],[1965.75,4.555],[1966.17,4.551],[1966.49,4.546],[1966.81,4.540],[1967.12,4.538],[1967.65,4.542],[1968.08,4.546],[1968.50,4.548],[1969.03,4.547],[1969.56,4.544],[1970.09,4.540],[1970.62,4.542],[1971.15,4.544],[1971.68,4.547],[1972.20,4.547],[1972.73,4.544],[1973.26,4.541],[1973.79,4.537],[1974.24,4.534],[1974.55,4.531],[1974.87,4.529],[1975.29,4.530],[1975.72,4.532],[1976.03,4.532],[1976.35,4.532],[1976.78,4.535],[1977.09,4.537],[1977.41,4.542],[1977.83,4.551],[1978.26,4.558],[1978.68,4.567],[1979.10,4.577],[1979.42,4.582],[1979.84,4.584],[1980.27,4.586],[1980.59,4.583],[1981.01,4.580],[1981.43,4.580],[1981.86,4.577],[1982.28,4.575],[1982.60,4.570],[1983.13,4.569],[1983.66,4.569],[1984.19,4.567],[1984.61,4.566],[1985.14,4.567],[1985.46,4.573],[1985.88,4.584],[1986.30,4.595],[1986.73,4.602],[1987.15,4.604],[1987.57,4.611],[1988.00,4.614],[1988.42,4.616],[1988.84,4.618],[1989.27,4.621],[1989.69,4.624],[1990.11,4.628],[1990.54,4.629],[1990.98,4.632],[1991.40,4.630],[1991.83,4.629],[1992.25,4.632],[1992.67,4.632],[1993.10,4.633],[1993.52,4.630],[1993.94,4.632],[1994.37,4.629],[1994.79,4.627],[1995.21,4.627],[1995.64,4.622],[1996.06,4.619],[1996.48,4.617],[1996.91,4.616],[1997.33,4.615],[1997.75,4.614],[1998.18,4.610],[1998.60,4.609],[1999.02,4.605],[1999.45,4.607],[1999.87,4.605],[2000.29,4.603],[2000.72,4.602],[2001.14,4.598],[2001.56,4.591],[2002.00,4.584],[2002.41,4.577],[2002.83,4.569],[2003.26,4.567],[2003.68,4.558],[2004.11,4.549],[2004.53,4.542],[2004.95,4.538],[2005.38,4.531],[2005.80,4.520],[2006.22,4.511],[2006.65,4.509],[2007.02,4.506],[2007.43,4.503],[2007.95,4.502],[2008.47,4.500],[2008.89,4.503],[2009.51,4.504],[2010.14,4.501],[2010.76,4.504],[2011.39,4.502],[2011.91,4.502],[2012.43,4.506],[2013.05,4.506],[2013.68,4.508],[2014.20,4.512],[2014.72,4.509],[2015.24,4.509],[2015.76,4.507],[2016.18,4.511],[2016.59,4.511],[2017.01,4.507],[2017.43,4.504],[2017.95,4.501],[2018.47,4.489],[2018.99,4.486],[2019.51,4.482],[2020.03,4.481],[2020.55,4.478],[2021.07,4.477],[2021.59,4.474],[2022.11,4.472],[2022.42,4.471]];

const aaiwTrend = [[1963.4,4.581],[2019.35,4.538]];

const panelNames = ['STW', 'SAMW', 'AAIW'];
const seriesNames = ['monthly temperature', '5-year running mean', 'linear trend (1993-2019)'];
const yearTicks = [1960, 1970, 1980, 1990, 2000, 2010, 2020];

// ---------- STYLE ----------
const BLUE = '#0072BD', ORANGE = '#D95319', YELLOW = '#EDB120';
const FONT = 'DejaVu Sans, Liberation Sans, Arial, sans-serif';
const LINE = '#4a4a4a', TICK = '#262626';

function xs(a) { return a.map(p => p[0]); }
function ys(a) { return a.map(p => p[1]); }

function panelTraces(mon, mean, trend, xa, ya, show) {
  return [
    {type: 'scatter', mode: 'lines', x: xs(mon), y: ys(mon), xaxis: xa, yaxis: ya,
     line: {color: BLUE, width: 3.5}, name: seriesNames[0], showlegend: show, hoverinfo: 'skip'},
    {type: 'scatter', mode: 'lines', x: xs(mean), y: ys(mean), xaxis: xa, yaxis: ya,
     line: {color: ORANGE, width: 3, shape: 'spline', smoothing: 0.6}, name: seriesNames[1], showlegend: show, hoverinfo: 'skip'},
    {type: 'scatter', mode: 'lines', x: xs(trend), y: ys(trend), xaxis: xa, yaxis: ya,
     line: {color: YELLOW, width: 3}, name: seriesNames[2], showlegend: show, hoverinfo: 'skip'}
  ];
}

const data = [].concat(
  panelTraces(stwMonthly, stwMean, stwTrend, 'x', 'y', true),
  panelTraces(samwMonthly, samwMean, samwTrend, 'x2', 'y2', false),
  panelTraces(aaiwMonthly, aaiwMean, aaiwTrend, 'x3', 'y3', false)
);

const xBase = {domain: [0, 1], range: [1958.04, 2022.48], showgrid: false, zeroline: false,
  showline: true, linecolor: LINE, linewidth: 2, fixedrange: true};
const yBase = {showgrid: false, zeroline: false, showline: true, linecolor: LINE, linewidth: 2,
  mirror: 'ticks', ticks: 'inside', ticklen: 22, tickwidth: 2, tickcolor: TICK,
  tickfont: {family: FONT, size: 36, color: TICK}, ticklabelstandoff: 10, fixedrange: true};

const titleFont = {family: FONT, size: 44, color: '#000'};

const layout = {
  width: 2515, height: 1641,
  margin: {l: 159, r: 27, t: 82, b: 96},
  paper_bgcolor: '#ffffff', plot_bgcolor: '#ffffff',
  font: {family: FONT, size: 36, color: TICK},
  showlegend: true,
  legend: {x: 0.6698, y: 1.0, xanchor: 'left', yanchor: 'top', bgcolor: '#ffffff',
    bordercolor: '#262626', borderwidth: 2, itemwidth: 110, tracegroupgap: 0,
    font: {family: FONT, size: 38, color: '#000000'}},
  xaxis: Object.assign({}, xBase, {anchor: 'y', showticklabels: false, ticks: '', mirror: true}),
  xaxis2: Object.assign({}, xBase, {anchor: 'y2', showticklabels: false, ticks: '', mirror: true}),
  xaxis3: Object.assign({}, xBase, {anchor: 'y3', ticks: 'inside', ticklen: 18, tickwidth: 2, tickcolor: TICK,
    mirror: 'ticks', tickvals: yearTicks, tickfont: {family: FONT, size: 36, color: TICK},
    title: {text: 'Year', standoff: 4, font: {family: FONT, size: 36, color: TICK}}}),
  yaxis: Object.assign({}, yBase, {anchor: 'x', domain: [0.6849, 1], range: [17.5, 19.5], tick0: 17.5, dtick: 0.5}),
  yaxis2: Object.assign({}, yBase, {anchor: 'x2', domain: [0.3427, 0.6567], range: [10, 12], tick0: 10, dtick: 0.5,
    title: {text: 'Temperature [<sup>o</sup>C]', standoff: 4, font: {family: FONT, size: 36, color: TICK}}}),
  yaxis3: Object.assign({}, yBase, {anchor: 'x3', domain: [0, 0.3137], range: [4.3, 4.8], tick0: 4.3, dtick: 0.1}),
  annotations: [
    {text: '<b>' + panelNames[0] + '</b>', xref: 'paper', yref: 'paper', x: 0.440, y: 0.9668,
     xanchor: 'center', yanchor: 'middle', showarrow: false, font: titleFont},
    {text: '<b>' + panelNames[1] + '</b>', xref: 'paper', yref: 'paper', x: 0.453, y: 0.6261,
     xanchor: 'center', yanchor: 'middle', showarrow: false, font: titleFont},
    {text: '<b>' + panelNames[2] + '</b>', xref: 'paper', yref: 'paper', x: 0.451, y: 0.2809,
     xanchor: 'center', yanchor: 'middle', showarrow: false, font: titleFont}
  ]
};

Plotly.newPlot('plot', data, layout, {displayModeBar: false, staticPlot: true}).then(function (gd) {
  // the reference legend has tighter rows than Plotly's default line spacing: compress it vertically
  const lg = gd.querySelector('g.legend');
  if (lg) {
    const t = lg.getAttribute('transform') || '';
    lg.setAttribute('transform', t + ' scale(1,0.8)');
  }
});
</script></body></html>
